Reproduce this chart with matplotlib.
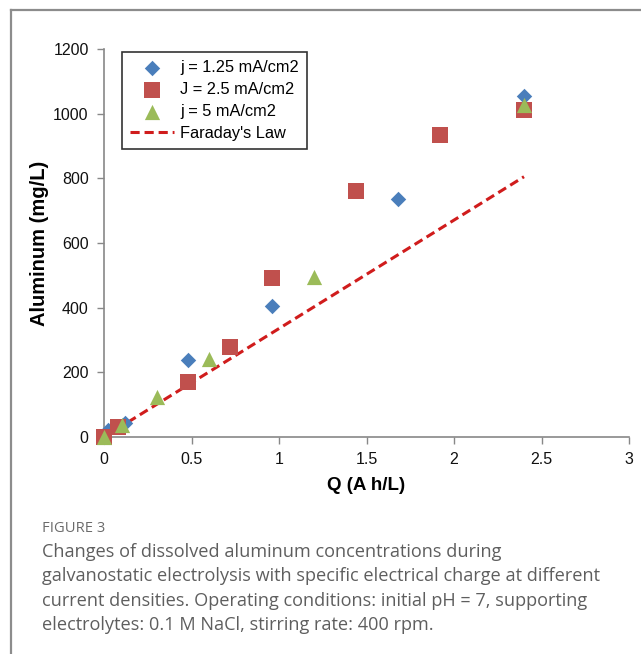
import matplotlib
matplotlib.use("Agg")
import matplotlib.pyplot as plt
from matplotlib.lines import Line2D

# data
q_j125 = [0, 0.024, 0.12, 0.48, 0.96, 1.68, 2.4]
al_j125 = [0, 22, 43, 238, 406, 735, 1054]

q_j25 = [0, 0.08, 0.48, 0.72, 0.96, 1.44, 1.92, 2.4]
al_j25 = [0, 32, 171, 279, 491, 761, 934, 1011]

q_j5 = [0, 0.1, 0.3, 0.6, 1.2, 2.4]
al_j5 = [0, 37, 125, 240, 494, 1027]

q_faraday = [0, 2.4]
al_faraday = [0, 805]

x_ticks = [0, 0.5, 1, 1.5, 2, 2.5, 3]
x_ticklabels = ["0", "0.5", "1", "1.5", "2", "2.5", "3"]
y_ticks = [0, 200, 400, 600, 800, 1000, 1200]

caption_title = "FIGURE 3"
caption_lines = [
    "Changes of dissolved aluminum concentrations during",
    "galvanostatic electrolysis with specific electrical charge at different",
    "current densities. Operating conditions: initial pH = 7, supporting",
    "electrolytes: 0.1 M NaCl, stirring rate: 400 rpm.",
]

W, H = 641, 654
plt.rcParams["font.family"] = ["Liberation Sans", "DejaVu Sans"]
fig = plt.figure(figsize=(W / 100, H / 100), dpi=100)

# card border (top and left only)
fig.add_artist(Line2D([11 / W, 1], [1 - 10 / H, 1 - 10 / H], color="#8c8c8c", lw=1.6, transform=fig.transFigure))
fig.add_artist(Line2D([11 / W, 11 / W], [0, 1 - 10 / H], color="#8c8c8c", lw=1.6, transform=fig.transFigure))

ax = fig.add_axes([104 / W, 1 - 437 / H, 525 / W, 388 / H])

ax.plot(q_faraday, al_faraday, linestyle=(0, (3, 1.6)), color="#d01c1c", lw=2.2, label="Faraday's Law", zorder=2)
ax.scatter(q_j125, al_j125, marker="D", s=62, color="#4a7ebb", label="j = 1.25 mA/cm2", zorder=3, linewidths=0)
ax.scatter(q_j25, al_j25, marker="s", s=130, color="#c0504d", label="J = 2.5 mA/cm2", zorder=3, linewidths=0)
ax.scatter(q_j5, al_j5, marker="^", s=120, color="#9bbb59", label="j = 5 mA/cm2", zorder=4, linewidths=0)

ax.set_xlim(0, 3)
ax.set_ylim(0, 1200)
ax.set_xticks(x_ticks)
ax.set_xticklabels(x_ticklabels)
ax.set_yticks(y_ticks)
ax.tick_params(labelsize=11.5, colors="#888888", labelcolor="#111111", length=5, width=1, direction="out", pad=6)
for s in ["top", "right"]:
    ax.spines[s].set_visible(False)
for s in ["left", "bottom"]:
    ax.spines[s].set_color("#888888")
    ax.spines[s].set_linewidth(1.2)
for c in ax.collections:
    c.set_clip_on(False)

ax.set_xlabel("Q (A h/L)", fontsize=13.5, fontweight="bold", labelpad=7)
ax.set_ylabel("Aluminum (mg/L)", fontsize=14.5, fontweight="bold", labelpad=3)

# legend: markers first, Faraday line last
handles, labels = ax.get_legend_handles_labels()
order = [1, 2, 3, 0]
leg = ax.legend([handles[i] for i in order], [labels[i] for i in order],
                loc="upper left", bbox_to_anchor=(18 / 525, 1 - 3 / 388), borderaxespad=0,
                fontsize=11.8, frameon=True, fancybox=False, edgecolor="black", handlelength=2.7,
                handletextpad=0.35, borderpad=0.5, labelspacing=0.42)
leg.get_frame().set_linewidth(1.2)

fig.text(42 / W, 1 - 528 / H, caption_title, fontsize=10.6, color="#6b6b6b",
         family=["Open Sans", "DejaVu Sans"], va="center")
for i, line in enumerate(caption_lines):
    fig.text(42 / W, 1 - (552 + i * 24.3) / H, line, fontsize=13.1, color="#5e5e5e",
             family=["Open Sans", "DejaVu Sans"], va="center")

fig.savefig("out.png", dpi=100)
